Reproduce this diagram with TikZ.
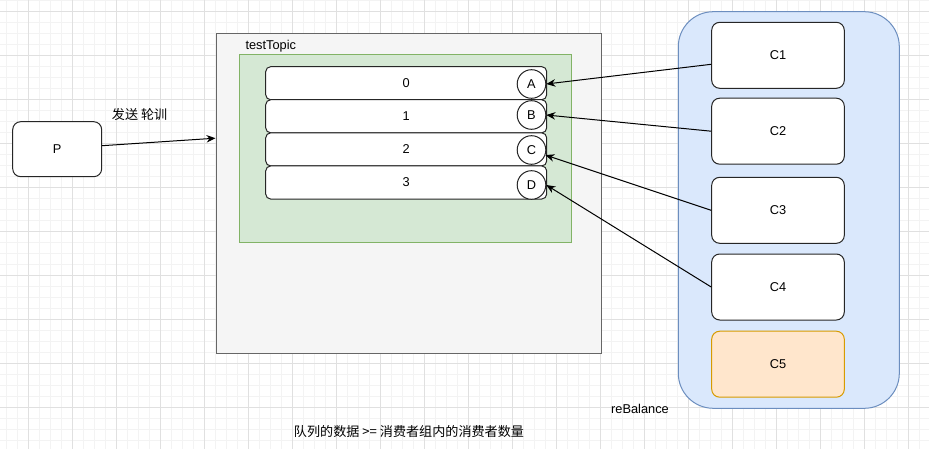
\documentclass[tikz,border=0pt]{standalone}
\usepackage{fontspec}
\setmainfont{Liberation Sans}
\newfontfamily\cjk{Noto Sans CJK SC}
\usepackage{tikz}
\usetikzlibrary{arrows.meta, positioning, calc}

\begin{document}
\begin{tikzpicture}[x=1pt, y=-1pt, font=\fontsize{12.8}{15}\selectfont,
    cbox/.style={draw=black!85, fill=white, rounded corners=8pt, line width=1pt,
        minimum width=132.6pt, minimum height=66pt},
    rowbox/.style={draw=black!85, fill=white, rounded corners=5pt, line width=1pt,
        minimum width=281pt, minimum height=33.1pt},
    slot/.style={circle, draw=black!85, fill=white, line width=1pt,
        minimum size=28.6pt, inner sep=0pt},
    cjktext/.style={font=\cjk\fontsize{13.1}{15}\selectfont},
    link/.style={line width=1pt, -{Stealth[length=9pt, width=7.5pt]}}]
    \definecolor{gridminor}{HTML}{F3F3F3}
    \definecolor{gridmajor}{HTML}{E0E0E0}
    \definecolor{topicfill}{HTML}{F5F5F5}
    \definecolor{topicline}{HTML}{666666}
    \definecolor{queuefill}{HTML}{D5E8D4}
    \definecolor{queueline}{HTML}{82B366}
    \definecolor{groupfill}{HTML}{DAE8FC}
    \definecolor{groupline}{HTML}{6C8EBF}
    \definecolor{c5fill}{HTML}{FFE6CC}
    \definecolor{c5line}{HTML}{D79B00}

    \useasboundingbox[fill=white] (0,0) rectangle (929,449);

    % Grid
    \foreach \i in {0,...,84} \draw[gridminor, line width=0.8pt] ({6.3+11*\i},0) -- ({6.3+11*\i},449);
    \foreach \i in {0,...,40} \draw[gridminor, line width=0.8pt] (0,{0.3+11*\i}) -- (929,{0.3+11*\i});
    \foreach \i in {0,...,20} \draw[gridmajor, line width=0.8pt] ({28.3+44*\i},0) -- ({28.3+44*\i},449);
    \foreach \i in {0,...,10} \draw[gridmajor, line width=0.8pt] (0,{11.3+44*\i}) -- (929,{11.3+44*\i});

    % Producer
    \node[cbox, minimum width=89pt, minimum height=55pt] (p) at (57.2,149.2) {P};

    % Topic with its queues
    \node[draw=topicline, fill=topicfill, line width=1pt,
        minimum width=385pt, minimum height=320pt] (topic) at (408.5,193.2) {};
    \node[anchor=west] (topicname) at (242,46) {testTopic};
    \node[draw=queueline, fill=queuefill, line width=1pt,
        minimum width=331.7pt, minimum height=188pt] (queues) at (405.8,149) {};
    \foreach \i in {0,...,3}
        \node[rowbox] (row\i) at (406.2,{83.2+33.1*\i}) {\i};
    \foreach \l/\L/\y in {a/A/84, b/B/115, c/C/150, d/D/185}
        \node[slot] (\l) at (531.5,\y) {\L};

    % Consumer group
    \node[draw=groupline, fill=groupfill, line width=1pt, rounded corners=35pt,
        minimum width=221pt, minimum height=396.6pt] (group) at (788.8,210) {};
    \foreach \n/\y in {1/55.3, 2/131.2, 3/210.3, 4/287}
        \node[cbox] (c\n) at (778,\y) {C\n};
    \node[cbox, fill=c5fill, draw=c5line] (c5) at (778,364.2) {C5};

    % Connectors
    \draw[link] ([yshift=3.5pt]p.east) -- ([yshift=55pt]topic.west)
        node[pos=0.33, above=19pt, cjktext] (send) {发送 轮训};
    \draw[link] ([yshift=-9pt]c1.west) -- (a.east);
    \draw[link] (c2.west) -- (b.east);
    \draw[link] (c3.west) -- (c.-20);
    \draw[link] (c4.west) -- (d.east);

    % Notes
    \node (rebalance) at (640,409) {reBalance};
    \node[cjktext] (rule) at (409,432) {队列的数据 >= 消费者组内的消费者数量};
\end{tikzpicture}
\end{document}
